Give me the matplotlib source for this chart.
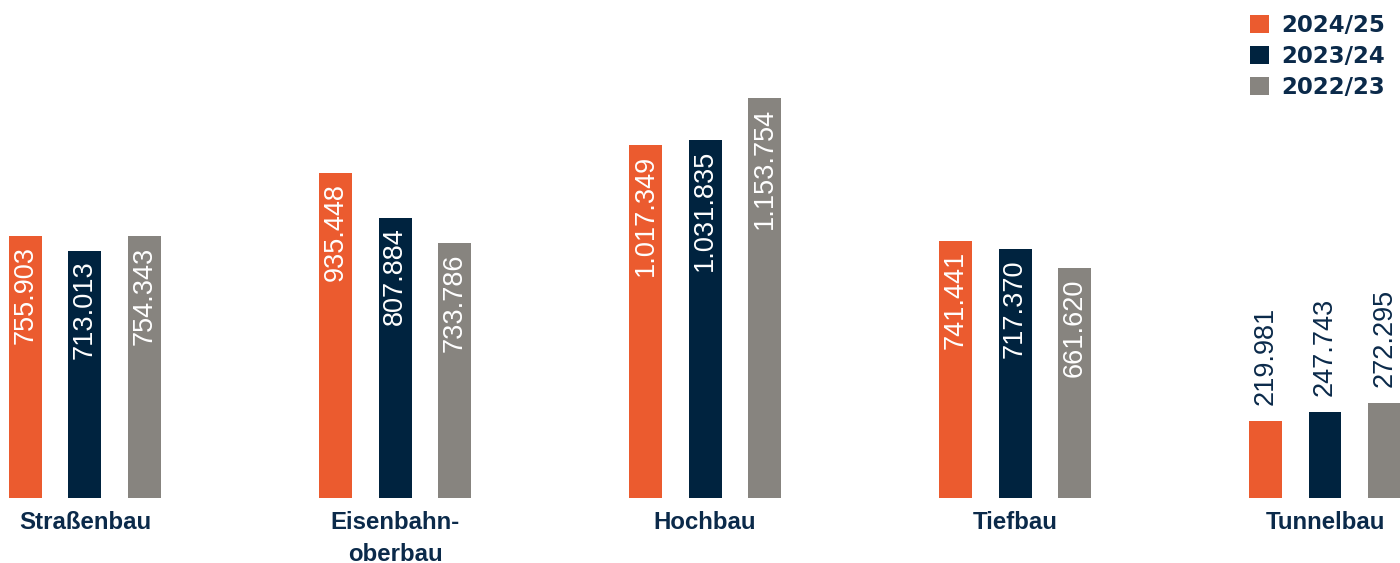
import numpy as np
import matplotlib
matplotlib.use("Agg")
import matplotlib.pyplot as plt

# Daten
kategorien = ["Straßenbau", "Eisenbahn-\noberbau", "Hochbau", "Tiefbau", "Tunnelbau"]
jahre = ["2024/25", "2023/24", "2022/23"]
werte_2425 = [755903, 935448, 1017349, 741441, 219981]
werte_2324 = [713013, 807884, 1031835, 717370, 247743]
werte_2223 = [754343, 733786, 1153754, 661620, 272295]
beschriftung_2425 = ["755.903", "935.448", "1.017.349", "741.441", "219.981"]
beschriftung_2324 = ["713.013", "807.884", "1.031.835", "717.370", "247.743"]
beschriftung_2223 = ["754.343", "733.786", "1.153.754", "661.620", "272.295"]

farben = ["#EB5B2F", "#00233F", "#87847F"]
navy = "#0B2A4A"

fig = plt.figure(figsize=(14, 5.63), dpi=100)
ax = fig.add_axes([0, 0, 1, 1])
ax.axis("off")

x = np.arange(len(kategorien))
abstand = 59.5 / 310
breite = 33 / 310

serien = [werte_2425, werte_2324, werte_2223]
texte = [beschriftung_2425, beschriftung_2324, beschriftung_2223]
for i, (werte, labels) in enumerate(zip(serien, texte)):
    pos = x + (i - 1) * abstand
    ax.bar(pos, werte, width=breite, color=farben[i], label=jahre[i])
    for px, v, t in zip(pos, werte, labels):
        if v > 400000:
            # Wert im Balken
            ax.annotate(t, (px, v), xytext=(0, -10), textcoords="offset pixels",
                        rotation=90, ha="center", va="top", color="white",
                        fontsize=19.5, family="Liberation Sans", fontweight="medium")
        else:
            # Wert über dem Balken
            ax.annotate(t, (px, v), xytext=(0, 16), textcoords="offset pixels",
                        rotation=90, ha="center", va="bottom", color=navy,
                        fontsize=19.5, family="Liberation Sans", fontweight="medium")

for px, k in zip(x, kategorien):
    ax.annotate(k, (px, 0), xytext=(0, -13), textcoords="offset pixels",
                ha="center", va="top", color=navy, fontsize=17.3,
                fontweight="bold", family="Liberation Sans", linespacing=1.5)

ax.set_xlim(-85 / 310, 1315 / 310)
ax.set_ylim(-188400, 1436000)

leg = ax.legend(loc="upper right", bbox_to_anchor=(1.0025, 1.008), frameon=False,
                prop={"family": "DejaVu Sans", "weight": "bold", "size": 16.5},
                handlelength=0.82, handleheight=0.82, handletextpad=0.55,
                labelspacing=0.36, borderpad=0.3)
for t in leg.get_texts():
    t.set_color(navy)

fig.savefig("out.png", dpi=100)
